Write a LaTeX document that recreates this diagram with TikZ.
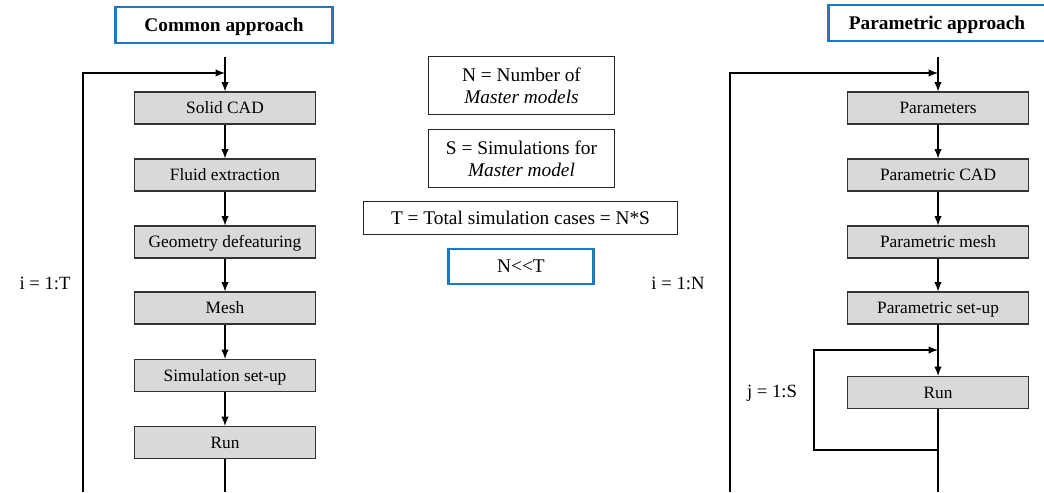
\documentclass[tikz,border=0pt]{standalone}
\usepackage{fontspec}
\setmainfont{Liberation Serif}
\usetikzlibrary{arrows.meta}

\definecolor{boxgray}{HTML}{D9D9D9}
\definecolor{titleblue}{HTML}{1F77C4}

\tikzset{
  stepbox/.style={draw=black!80, fill=boxgray, line width=0.8pt,
    minimum width=136pt, minimum height=24pt, inner sep=0pt,
    text height=10.5pt, text depth=2pt,
    font=\fontsize{13}{15}\selectfont},
  titlebox/.style={draw=titleblue, line width=1.8pt, fill=white,
    minimum width=163pt, minimum height=27pt, inner sep=0pt,
    text height=12pt, text depth=2.5pt,
    font=\fontsize{14.5}{17}\selectfont\bfseries},
  notebox/.style={draw=black!85, line width=0.8pt, align=center,
    minimum width=139pt, inner sep=3pt,
    font=\fontsize{14.5}{16.5}\selectfont},
  flow/.style={line width=0.9pt, -{Latex[length=7pt,width=5.5pt]}},
  loopline/.style={line width=0.9pt},
  looplabel/.style={font=\fontsize{14}{16}\selectfont}
}

\begin{document}
\begin{tikzpicture}[x=0.75pt, y=-0.75pt]
\useasboundingbox (0,0) rectangle (1044,492);

% common approach
\node[titlebox] (ctitle) at (224,25) {Common approach};
\node[stepbox] (c1) at (225,108) {Solid CAD};
\node[stepbox] (c2) at (225,175) {Fluid extraction};
\node[stepbox] (c3) at (225,242) {Geometry defeaturing};
\node[stepbox] (c4) at (225,308) {Mesh};
\node[stepbox] (c5) at (225,375.5) {Simulation set-up};
\node[stepbox] (c6) at (225,442.5) {Run};

\coordinate (cin) at (225,57);
\coordinate (cjoin) at (225,73);
\coordinate (cend) at (225,492);
\coordinate (cbl) at (83,492);
\coordinate (ctl) at (83,73);

\draw[flow] (cin) -- (c1.north);
\foreach \a/\b in {c1/c2, c2/c3, c3/c4, c4/c5, c5/c6}
  \draw[flow] (\a.south) -- (\b.north);
\draw[loopline] (c6.south) -- (cend);
\draw[flow] (cbl) -- (ctl) -- (cjoin);
\node[looplabel] (ilabel) at (45,283) {i = 1:T};

% definitions
\node[notebox, minimum height=44pt] (nbox) at (521.5,85.5)
  {N = Number of\\ \textit{Master models}};
\node[notebox, minimum height=44pt] (sbox) at (521.5,158.5)
  {S = Simulations for\\ \textit{Master model}};
\node[notebox, minimum width=235pt, minimum height=25pt] (tbox) at (520.5,218)
  {T = Total simulation cases = N*S};
\node[notebox, draw=titleblue, line width=1.8pt, minimum width=109pt,
  minimum height=26pt] (ntbox) at (521,266.5) {N{<}{<}T};

% parametric approach
\node[titlebox] (ptitle) at (937,23) {Parametric approach};
\node[stepbox] (p1) at (938,108) {Parameters};
\node[stepbox] (p2) at (938,175) {Parametric CAD};
\node[stepbox] (p3) at (938,242) {Parametric mesh};
\node[stepbox] (p4) at (938,308) {Parametric set-up};
\node[stepbox] (p5) at (938,392.5) {Run};

\coordinate (pin) at (938,57);
\coordinate (pjoin) at (938,73);
\coordinate (pend) at (938,492);
\coordinate (pbl) at (730,492);
\coordinate (ptl) at (730,73);
\coordinate (rjoin) at (938,350);
\coordinate (rout) at (938,450);
\coordinate (rbl) at (814,450);
\coordinate (rtl) at (814,350);

\draw[flow] (pin) -- (p1.north);
\foreach \a/\b in {p1/p2, p2/p3, p3/p4, p4/p5}
  \draw[flow] (\a.south) -- (\b.north);
\draw[loopline] (p5.south) -- (pend);
\draw[flow] (pbl) -- (ptl) -- (pjoin);
\draw[flow] (rout) -- (rbl) -- (rtl) -- (rjoin);
\node[looplabel] (nlabel) at (678,283) {i = 1:N};
\node[looplabel] (slabel) at (772,393) {j = 1:S};

\end{tikzpicture}
\end{document}
